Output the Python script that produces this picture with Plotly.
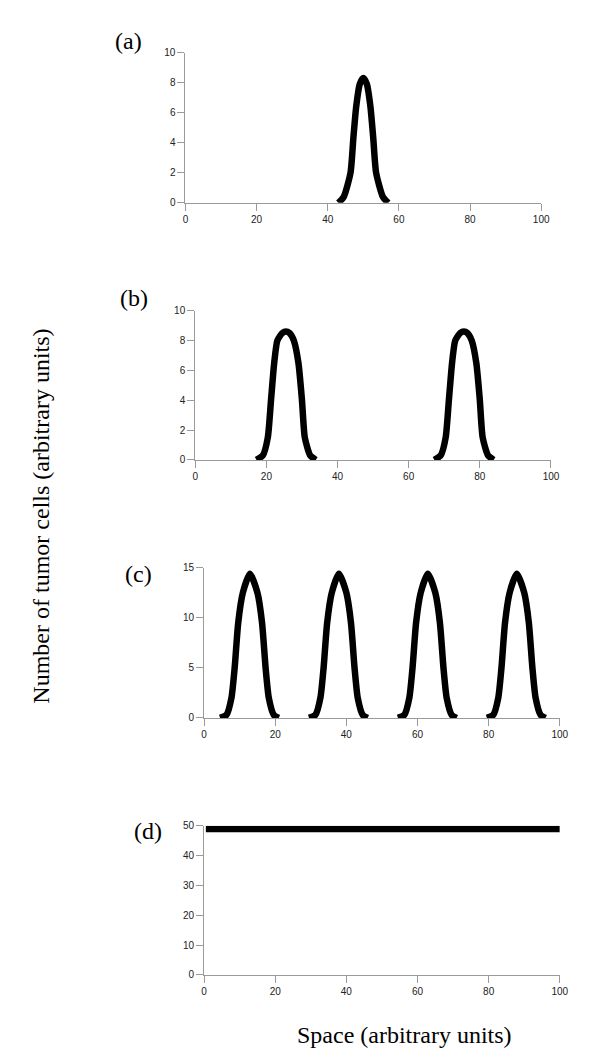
import plotly.graph_objects as go

W, H = 600, 1060

# (a) one bump
xa = [43, 44.5, 46.4, 47.2, 48, 49, 50, 51, 52, 52.8, 53.6, 55.5, 57]
ya = [0, 0.4, 2.0, 4.3, 6.4, 7.9, 8.3, 7.9, 6.4, 4.3, 2.0, 0.4, 0]

# (b) two bumps, None splits them so the baseline between is not drawn
xb = [17.2, 19, 20.4, 21.3, 22.2, 23.1, 24.5, 25.5, 26.5, 27.7, 29, 30, 30.8, 32.3, 33.9, None,
      67.2, 69, 70.4, 71.3, 72.2, 73.1, 74.5, 75.5, 76.5, 77.7, 79, 80, 80.8, 82.3, 83.9]
yb = [0, 0.3, 1.5, 4.0, 6.5, 8.0, 8.5, 8.6, 8.5, 8.0, 6.5, 4.0, 1.5, 0.3, 0, None,
      0, 0.3, 1.5, 4.0, 6.5, 8.0, 8.5, 8.6, 8.5, 8.0, 6.5, 4.0, 1.5, 0.3, 0]

# (c) four bumps
xc = [4.5, 6.3, 7.7, 8.6, 9.6, 10.9, 12.9, 15, 16.3, 17.3, 18.2, 19.6, 21, None,
      29.5, 31.3, 32.7, 33.6, 34.6, 35.9, 37.9, 40, 41.3, 42.3, 43.2, 44.6, 46, None,
      54.5, 56.3, 57.7, 58.6, 59.6, 60.9, 62.9, 65, 66.3, 67.3, 68.2, 69.6, 71, None,
      79.5, 81.3, 82.7, 83.6, 84.6, 85.9, 87.9, 90, 91.3, 92.3, 93.2, 94.6, 96]
yc = [0, 0.3, 2.0, 5.0, 9.5, 12.5, 14.4, 12.5, 9.5, 5.0, 2.0, 0.3, 0, None,
      0, 0.3, 2.0, 5.0, 9.5, 12.5, 14.4, 12.5, 9.5, 5.0, 2.0, 0.3, 0, None,
      0, 0.3, 2.0, 5.0, 9.5, 12.5, 14.4, 12.5, 9.5, 5.0, 2.0, 0.3, 0, None,
      0, 0.3, 2.0, 5.0, 9.5, 12.5, 14.4, 12.5, 9.5, 5.0, 2.0, 0.3, 0]

# (d) flat
xd = [0.5, 100]
yd = [48.9, 48.9]

panels = [
    # data, y max, y dtick, x px span, y px span, label, label px
    (xa, ya, 10, 2, (178, 541), (39, 191), "(a)", (120, 27)),
    (xb, yb, 10, 2, (188, 551), (300, 451), "(b)", (126, 287)),
    (xc, yc, 15, 5, (197, 560), (560, 712), "(c)", (130, 566)),
    (xd, yd, 50, 10, (197, 560), (821, 972), "(d)", (140, 826)),
]

SERIF = "Liberation Serif, Times New Roman, serif"

fig = go.Figure()
annotations = []
layout = {}
for i, (xs, ys, ymax, dt, (x0, x1), (y0, y1), lab, (lx, ly)) in enumerate(panels, start=1):
    sfx = "" if i == 1 else str(i)
    fig.add_trace(go.Scatter(
        x=xs, y=ys, mode="lines", xaxis="x" + sfx, yaxis="y" + sfx,
        line=dict(color="black", width=6.5, shape="spline", smoothing=0.6),
        showlegend=False, connectgaps=False,
    ))
    axis_style = dict(
        showgrid=False, zeroline=False, showline=True, linecolor="#9a9a9a",
        linewidth=1, ticks="outside", ticklen=7, tickcolor="#9a9a9a",
        tickfont=dict(family="Liberation Sans, Arial", size=10, color="#222"),
    )
    layout["xaxis" + sfx] = dict(
        axis_style, domain=[x0 / W, x1 / W], range=[0, 100], dtick=20,
        anchor="y" + sfx,
    )
    layout["yaxis" + sfx] = dict(
        axis_style, domain=[1 - y1 / H, 1 - y0 / H], range=[0, ymax], dtick=dt,
        anchor="x" + sfx,
    )
    annotations.append(dict(
        text=lab, x=lx / W, y=1 - ly / H, xref="paper", yref="paper",
        showarrow=False, xanchor="center", yanchor="middle",
        font=dict(family=SERIF, size=24, color="black"),
    ))

annotations.append(dict(
    text="Number of tumor cells (arbitrary units)", x=31 / W, y=1 - 508 / H,
    xref="paper", yref="paper", showarrow=False, textangle=-90,
    xanchor="center", yanchor="middle",
    font=dict(family=SERIF, size=24, color="black"),
))
annotations.append(dict(
    text="Space (arbitrary units)", x=402 / W, y=1 - 1033 / H,
    xref="paper", yref="paper", showarrow=False,
    xanchor="center", yanchor="middle",
    font=dict(family=SERIF, size=24, color="black"),
))

fig.update_layout(
    width=W, height=H, margin=dict(l=0, r=0, t=0, b=0),
    plot_bgcolor="white", paper_bgcolor="white",
    annotations=annotations, **layout,
)

fig.write_html("out.html")
